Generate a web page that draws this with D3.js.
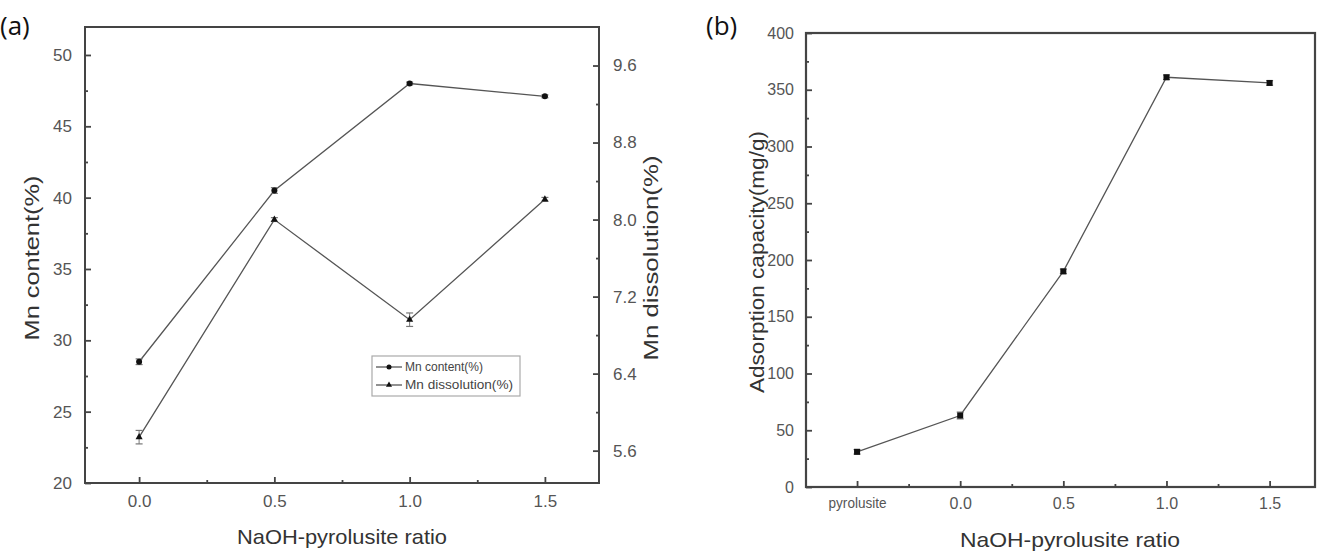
<!DOCTYPE html>
<html><head><meta charset="utf-8">
<script src="https://cdn.jsdelivr.net/npm/d3@7"></script>
<style>body{margin:0;background:#fff}svg{display:block}
svg text{font-family:"Liberation Sans", Arial, Helvetica, sans-serif}
svg text.panel{font-family:"Open Sans","Noto Sans",sans-serif}</style>
</head><body>
<svg id="c" width="1325" height="553"></svg>
<script>
// ---- data ----
const ratiosA = [0.0, 0.5, 1.0, 1.5];
const mnContent = [28.5, 40.5, 48.0, 47.1];
const mnContentErr = [0.2, 0.2, 0.1, 0.1];
const mnDissolution = [5.74, 8.0, 6.96, 8.21];
const mnDissolutionErr = [0.07, 0.02, 0.07, 0.02];
const leftTicks = [20, 25, 30, 35, 40, 45, 50];
const rightTicks = [5.6, 6.4, 7.2, 8.0, 8.8, 9.6];
const xTicksA = [0.0, 0.5, 1.0, 1.5];

const catsB = ["pyrolusite", "0.0", "0.5", "1.0", "1.5"];
const adsorption = [31, 63, 190, 361, 356];
const adsorptionErr = [2, 3, 2, 2, 2];
const yTicksB = [0, 50, 100, 150, 200, 250, 300, 350, 400];

const svg = d3.select("#c");
const AX = "#444", TXT = "#555", LN = "#555";

// ---------------- Panel (a) ----------------
const a = {l: 85, r: 599, t: 27, b: 483};
const xA = d3.scaleLinear().domain([-0.2, 1.7]).range([a.l, a.r]);
const yL = d3.scaleLinear().domain([20, 51.96]).range([a.b, a.t]);
const yR = d3.scaleLinear().domain([5.264, 10.0]).range([a.b, a.t]);
const gA = svg.append("g");

function styleAxis(g){
  g.attr("font-family", null);
  g.select(".domain").remove();
  g.selectAll(".tick line").attr("stroke", AX).attr("stroke-width", 1.8);
  g.selectAll(".tick text").attr("fill", TXT).attr("font-size", 17);
}
gA.append("g").attr("transform", `translate(${a.l},0)`)
  .call(d3.axisLeft(yL).tickValues(leftTicks).tickSize(-6).tickPadding(13).tickFormat(d3.format("d")))
  .call(styleAxis);
gA.append("g").attr("transform", `translate(${a.l},0)`)
  .call(d3.axisLeft(yL).tickValues(leftTicks.slice(0,-1).map(d=>d+2.5)).tickSize(-3).tickFormat(""))
  .call(styleAxis);
gA.append("g").attr("transform", `translate(${a.r},0)`)
  .call(d3.axisRight(yR).tickValues(rightTicks).tickSize(-6).tickPadding(14).tickFormat(d3.format(".1f")))
  .call(styleAxis);
gA.append("g").attr("transform", `translate(${a.r},0)`)
  .call(d3.axisRight(yR).tickValues(rightTicks.slice(0,-1).map(d=>d+0.4)).tickSize(-3).tickFormat(""))
  .call(styleAxis);
gA.append("g").attr("transform", `translate(0,${a.b})`)
  .call(d3.axisBottom(xA).tickValues(xTicksA).tickSize(-6).tickPadding(12).tickFormat(d3.format(".1f")))
  .call(styleAxis);
gA.append("g").attr("transform", `translate(0,${a.b})`)
  .call(d3.axisBottom(xA).tickValues([0.25, 0.75, 1.25]).tickSize(-3).tickFormat(""))
  .call(styleAxis);
gA.append("rect").attr("x", a.l).attr("y", a.t).attr("width", a.r-a.l).attr("height", a.b-a.t)
  .attr("fill", "none").attr("stroke", AX).attr("stroke-width", 2);

function drawErr(g, xs, ys, es, x, y){
  xs.forEach((d,i)=>{
    const cx = x(d), y1 = y(ys[i]-es[i]), y2 = y(ys[i]+es[i]);
    g.append("line").attr("x1",cx).attr("x2",cx).attr("y1",y1).attr("y2",y2).attr("stroke","#777").attr("stroke-width",1);
    [y1,y2].forEach(yy=>g.append("line").attr("x1",cx-3.5).attr("x2",cx+3.5).attr("y1",yy).attr("y2",yy).attr("stroke","#777").attr("stroke-width",1.2));
  });
}
gA.append("path").datum(ratiosA.map((d,i)=>[d, mnContent[i]]))
  .attr("d", d3.line().x(d=>xA(d[0])).y(d=>yL(d[1])))
  .attr("fill","none").attr("stroke",LN).attr("stroke-width",1.3);
drawErr(gA, ratiosA, mnContent, mnContentErr, xA, yL);
gA.selectAll(".mc").data(ratiosA).join("circle")
  .attr("cx", d=>xA(d)).attr("cy",(d,i)=>yL(mnContent[i])).attr("r",3).attr("fill","#111");
gA.append("path").datum(ratiosA.map((d,i)=>[d, mnDissolution[i]]))
  .attr("d", d3.line().x(d=>xA(d[0])).y(d=>yR(d[1])))
  .attr("fill","none").attr("stroke",LN).attr("stroke-width",1.3);
drawErr(gA, ratiosA, mnDissolution, mnDissolutionErr, xA, yR);
const tri = d3.symbol().type(d3.symbolTriangle).size(22);
gA.selectAll(".md").data(ratiosA).join("path")
  .attr("d", tri).attr("transform",(d,i)=>`translate(${xA(d)},${yR(mnDissolution[i])})`).attr("fill","#111");

const lg = gA.append("g").attr("transform","translate(372,356)");
lg.append("rect").attr("width",148).attr("height",40).attr("fill","#fff").attr("stroke","#aaa").attr("stroke-width",1.2);
[["Mn content(%)","c"],["Mn dissolution(%)","t"]].forEach((d,i)=>{
  const yy = 11 + i*18;
  lg.append("line").attr("x1",4).attr("x2",30).attr("y1",yy).attr("y2",yy).attr("stroke",LN).attr("stroke-width",1.3);
  if(d[1]==="c") lg.append("circle").attr("cx",17).attr("cy",yy).attr("r",2.5).attr("fill","#111");
  else lg.append("path").attr("d", d3.symbol().type(d3.symbolTriangle).size(16)).attr("transform",`translate(17,${yy})`).attr("fill","#111");
  lg.append("text").attr("x",33).attr("y",yy+4).text(d[0]).attr("font-size",12.5)
    .attr("fill","#444").attr("textLength", i===0?78:108).attr("lengthAdjust","spacingAndGlyphs");
});

function label(g, txt, x, y, rot, len){
  g.append("text").attr("transform",`translate(${x},${y})${rot?" rotate(-90)":""}`).attr("text-anchor","middle")
    .attr("font-size",21).attr("fill","#333").attr("textLength",len).attr("lengthAdjust","spacingAndGlyphs").text(txt);
}
label(gA, "Mn content(%)", 39, 258, true, 165);
label(gA, "Mn dissolution(%)", 658, 258, true, 205);
label(gA, "NaOH-pyrolusite ratio", 342, 544, false, 210);
svg.append("text").attr("class","panel").attr("x",0).attr("y",35)
  .attr("font-size",26).attr("fill","#111").text("(a)");

// ---------------- Panel (b) ----------------
const b = {l: 806, r: 1315, t: 33, b: 487};
const xB = d3.scaleLinear().domain([-0.495, 4.44]).range([b.l, b.r]);
const yB = d3.scaleLinear().domain([0, 400]).range([b.b, b.t]);
const gB = svg.append("g");
gB.append("g").attr("transform",`translate(${b.l},0)`)
  .call(d3.axisLeft(yB).tickValues(yTicksB).tickSize(-6).tickPadding(12))
  .call(styleAxis).call(g=>g.selectAll(".tick text").attr("font-size",16));
gB.append("g").attr("transform",`translate(${b.l},0)`)
  .call(d3.axisLeft(yB).tickValues(yTicksB.slice(0,-1).map(d=>d+25)).tickSize(-3).tickFormat(""))
  .call(styleAxis);
gB.append("g").attr("transform",`translate(0,${b.b})`)
  .call(d3.axisBottom(xB).tickValues(d3.range(catsB.length)).tickSize(-6).tickPadding(11).tickFormat(i=>catsB[i]))
  .call(styleAxis).call(g=>g.selectAll(".tick text").attr("font-size",16)
    .filter(d=>d===0).attr("font-size",14).attr("textLength",58).attr("lengthAdjust","spacingAndGlyphs"));
gB.append("g").attr("transform",`translate(0,${b.b})`)
  .call(d3.axisBottom(xB).tickValues([0.5,1.5,2.5,3.5]).tickSize(-3).tickFormat(""))
  .call(styleAxis);
gB.append("rect").attr("x",b.l).attr("y",b.t).attr("width",b.r-b.l).attr("height",b.b-b.t)
  .attr("fill","none").attr("stroke",AX).attr("stroke-width",2.2);

gB.append("path").datum(adsorption.map((d,i)=>[i,d]))
  .attr("d", d3.line().x(d=>xB(d[0])).y(d=>yB(d[1])))
  .attr("fill","none").attr("stroke",LN).attr("stroke-width",1.3);
drawErr(gB, d3.range(catsB.length), adsorption, adsorptionErr, xB, yB);
gB.selectAll(".ad").data(adsorption).join("rect")
  .attr("x",(d,i)=>xB(i)-3).attr("y",d=>yB(d)-3).attr("width",6).attr("height",6).attr("fill","#111");

label(gB, "Adsorption capacity(mg/g)", 764, 262, true, 262);
label(gB, "NaOH-pyrolusite ratio", 1070, 547, false, 220);
svg.append("text").attr("class","panel").attr("x",706).attr("y",35)
  .attr("font-size",26).attr("fill","#111").text("(b)");
</script>
</body></html>
